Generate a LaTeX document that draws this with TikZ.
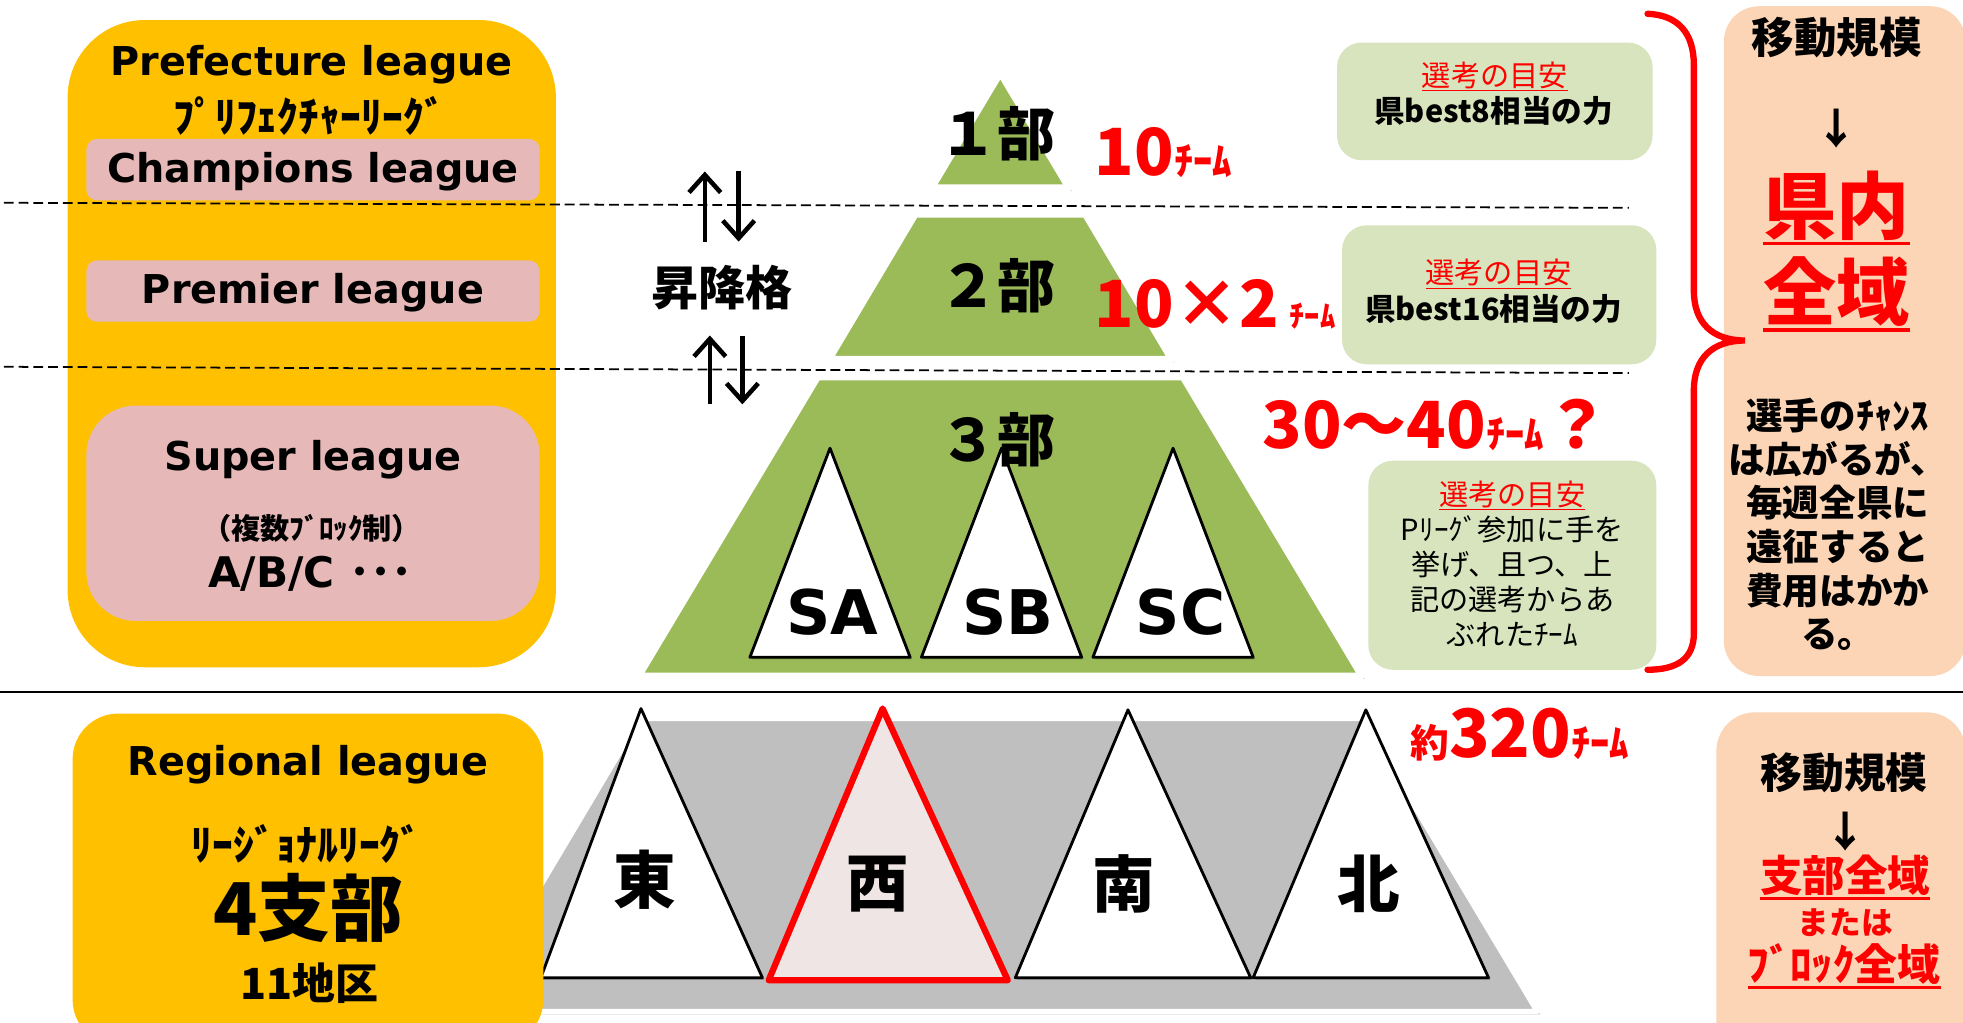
\documentclass[tikz,border=0pt]{standalone}
\usepackage{fontspec}
\setmainfont{DejaVu Sans}
\newfontfamily\jp{Noto Sans CJK JP}
\usetikzlibrary{positioning,fit,shadows,arrows.meta}

\definecolor{prefgold}{HTML}{FFC000}
\definecolor{leaguepink}{HTML}{E6B9B8}
\definecolor{tiergreen}{HTML}{9BBB59}
\definecolor{notegreen}{HTML}{D7E4BD}
\definecolor{travelpeach}{HTML}{FBD5B5}
\definecolor{basegray}{HTML}{BFBFBF}
\definecolor{westpink}{HTML}{EEE5E4}
\definecolor{alertred}{HTML}{FF0000}

\newcommand\jpb[2]{\jp\bfseries\fontsize{#1}{#2}\selectfont}
\newcommand\jpr[2]{\jp\mdseries\fontsize{#1}{#2}\selectfont}
\newcommand\latn[2]{\rmfamily\bfseries\fontsize{#1}{#2}\selectfont}
\newcommand\ulbox[2][.4pt]{\setbox0=\hbox{#2}\vtop{\box0\kern.4pt\hrule height #1}}

\begin{document}
\begin{tikzpicture}[
    x=0.12519mm, y=-0.12519mm,
    inner sep=0pt,
    prefbox/.style={rectangle,fill=prefgold,rounded corners=22pt,inner sep=0pt},
    pinkbox/.style={rectangle,fill=leaguepink,rounded corners=3pt,inner sep=0pt},
    notebox/.style={rectangle,fill=notegreen,rounded corners=7pt,inner sep=0pt},
    peachbox/.style={rectangle,fill=travelpeach,rounded corners=10pt,inner sep=0pt},
    tier/.style={fill=tiergreen,draw=white,line width=2pt,line join=round,
      drop shadow={shadow xshift=.8pt,shadow yshift=-.8pt,fill=black,opacity=.25}},
    block/.style={fill=white,draw=black,line width=.8pt,line join=round,
      drop shadow={shadow xshift=.6pt,shadow yshift=-.6pt,fill=black,opacity=.2}},
    leaguename/.style={font=\latn{11.3}{13}},
    tiername/.style={font=\jpb{16.5}{18}},
    areaname/.style={font=\jpb{17.8}{20}},
    teamcount/.style={anchor=base west,text=alertred},
    note/.style={font=\jpb{8.7}{10}},
    notehead/.style={font=\jpr{8.3}{10},text=alertred},
    dashsep/.style={dash pattern=on 2.8pt off 1.4pt,line width=.5pt},
    updown/.style={line width=1.3pt,-{Straight Barb[length=5pt,width=9pt]}}
  ]

  \useasboundingbox (0,0) rectangle (1568,817);
  \clip (0,0) rectangle (1568,817);
  \fill[white] (0,0) rectangle (1568,817);

  % prefecture league column
  \node(pref) [prefbox,fit={(54,16) (444,533)}] {};
  \node(champ) [pinkbox,fit={(69,111) (431,160)}] {};
  \node(prem) [pinkbox,fit={(69,208) (431,257)}] {};
  \node(super) [pinkbox,rounded corners=14pt,fit={(69,324) (431,496)}] {};
  \node(preftitle) [leaguename] at (249,52) {Prefecture league};
  \node(prefkana) [font=\jpb{11.9}{13}] at (247,93) {ﾌﾟﾘﾌｪｸﾁｬｰﾘｰｸﾞ};
  \node(champname) [leaguename] at (250,137) {Champions league};
  \node(premname) [leaguename] at (250,234) {Premier league};
  \node(supername) [leaguename] at (250,367) {Super league};
  \node(superblock) [font=\jpb{8.3}{10}] at (249,422) {（複数ﾌﾞﾛｯｸ制）};
  \node(superabc) [font=\latn{12}{14}] at (248,458) {A/B/C {\jp ･･･}};

  \draw[dashsep] (3,162) -- (1301,166);
  \draw[dashsep] (3,293) -- (1301,298);

  % pyramid
  \draw[tier] (799,58) -- (854,150) -- (744,150) -- cycle;
  \draw[tier] (731,171) -- (867,171) -- (936,287) -- (662,287) -- cycle;
  \draw[tier] (653,301) -- (945,301) -- (1088,540) -- (510,540) -- cycle;
  \draw[block] (663,358) -- (727,525) -- (599,525) -- cycle;
  \draw[block] (800,358) -- (864,525) -- (736,525) -- cycle;
  \draw[block] (937,358) -- (1001,525) -- (873,525) -- cycle;
  \node(div1) [tiername] at (797,107) {１部};
  \node(div2) [tiername] at (797,228) {２部};
  \node(div3) [tiername] at (797,351) {３部};
  \node(sa) [font=\latn{17.5}{20}] at (665,489) {SA};
  \node(sb) [font=\latn{17.5}{20}] at (805,489) {SB};
  \node(sc) [font=\latn{17.5}{20}] at (943,489) {SC};

  \node(promo) [font=\jpb{13.4}{15}] at (577,230) {昇降格};
  \draw[updown] (563,193) -- (563,137);
  \draw[updown] (590,137) -- (590,193);
  \draw[updown] (567,323) -- (567,268);
  \draw[updown] (593,268) -- (593,323);

  % selection notes
  \node(note1) [notebox,fit={(1068,34) (1320,128)}] {};
  \node(note1head) [notehead] at (1194,61) {\ulbox{選考の目安}};
  \node(note1body) [note] at (1193,89) {県best8相当の力};
  \node(note2) [notebox,fit={(1072,180) (1323,291)}] {};
  \node(note2head) [notehead] at (1197,219) {\ulbox{選考の目安}};
  \node(note2body) [note] at (1193,247) {県best16相当の力};
  \node(note3) [notebox,fit={(1093,368) (1323,535)}] {};
  \node(note3body) [font=\jpr{8.3}{9.95},align=center] at (1208,450)
    {\textcolor{alertred}{\ulbox{選考の目安}}\\Pﾘｰｸﾞ参加に手を\\挙げ、且つ、上\\記の選考からあ\\ぶれたﾁｰﾑ};

  \node(count1) [teamcount] at (874,140) {\jpb{18.5}{20}10\jpb{11}{12}ﾁｰﾑ};
  \node(count2) [teamcount] at (874,262) {\jpb{18.5}{20}10×2\,\jpb{8.7}{10}ﾁｰﾑ};
  \node(count3) [teamcount] at (1008,358) {\jpb{18.5}{20}30～40\jpb{11}{12}ﾁｰﾑ\jpb{18.5}{20}？};

  % travel scale, prefecture
  \node(travel1) [peachbox,fit={(1377,5) (1570,540)}] {};
  \node(travel1head) [font=\jpb{12.1}{14}] at (1467,30) {移動規模};
  \node(travel1arrow) [font=\jpb{12}{14}] at (1467,103) {↓};
  \node(travel1wide) [font=\jpb{20.8}{24},text=alertred] at (1467,166) {\ulbox[1pt]{県内}};
  \node(travel1all) [font=\jpb{20.8}{24},text=alertred] at (1467,235) {\ulbox[1pt]{全域}};
  \node(travel1note) [font=\jpb{10.4}{12.4},align=center] at (1468,419)
    {選手のﾁｬﾝｽ\\は広がるが、\\毎週全県に\\遠征すると\\費用はかか\\る。};

  \draw[alertred,line width=1.8pt,line cap=round]
    (1316,11) .. controls (1340,12) and (1353,26) .. (1353,52) -- (1353,232)
    .. controls (1353,258) and (1368,272) .. (1394,272)
    .. controls (1368,272) and (1353,286) .. (1353,312) -- (1353,506)
    .. controls (1353,526) and (1340,535) .. (1316,535);

  % regional league
  \draw[line width=.6pt] (0,552.5) -- (1568,552.5);
  \draw[fill=basegray,draw=white,line width=1.5pt,line join=round,
    drop shadow={shadow xshift=.8pt,shadow yshift=-.8pt,fill=black,opacity=.25}]
    (511,574) -- (1088,574) -- (1228,808) -- (372,808) -- cycle;
  \draw[block] (512,566) -- (609,781) -- (432,781) -- cycle;
  \draw[block,fill=westpink,draw=alertred,line width=1.8pt] (705,566) -- (805,783) -- (614,783) -- cycle;
  \draw[block] (901,567) -- (999,781) -- (811,781) -- cycle;
  \draw[block] (1091,567) -- (1189,781) -- (1001,781) -- cycle;
  \node(east) [areaname] at (515,703) {東};
  \node(west) [areaname] at (701,706) {西};
  \node(south) [areaname] at (898,706) {南};
  \node(north) [areaname] at (1093,706) {北};
  \node(count4) [teamcount] at (1126,605) {\jpb{11}{12}約\jpb{19}{21}320\jpb{11}{12}ﾁｰﾑ};

  \node(regional) [prefbox,rounded corners=13pt,fit={(58,570) (434,835)}] {};
  \node(regname) [leaguename] at (246,611) {Regional league};
  \node(regkana) [font=\jpb{11.9}{13}] at (245,674) {ﾘｰｼﾞｮﾅﾙﾘｰｸﾞ};
  \node(branches) [font=\jpb{20.7}{23}] at (246,725) {4支部};
  \node(districts) [font=\jpb{12.2}{14}] at (247,785) {11地区};

  % travel scale, regional
  \node(travel2) [peachbox,rounded corners=11pt,fit={(1371,569) (1570,850)}] {};
  \node(travel2head) [font=\jpb{11.9}{14}] at (1473,617) {移動規模};
  \node(travel2arrow) [font=\jpb{12}{14}] at (1474,664) {↓};
  \node(travel2branch) [font=\jpb{12.1}{14},text=alertred] at (1474,701) {\ulbox[.7pt]{支部全域}};
  \node(travel2or) [font=\jpb{9}{11},text=alertred] at (1474,737) {または};
  \node(travel2block) [font=\jpb{12.2}{14},text=alertred] at (1473,772) {\ulbox[.7pt]{ﾌﾞﾛｯｸ全域}};

\end{tikzpicture}
\end{document}
